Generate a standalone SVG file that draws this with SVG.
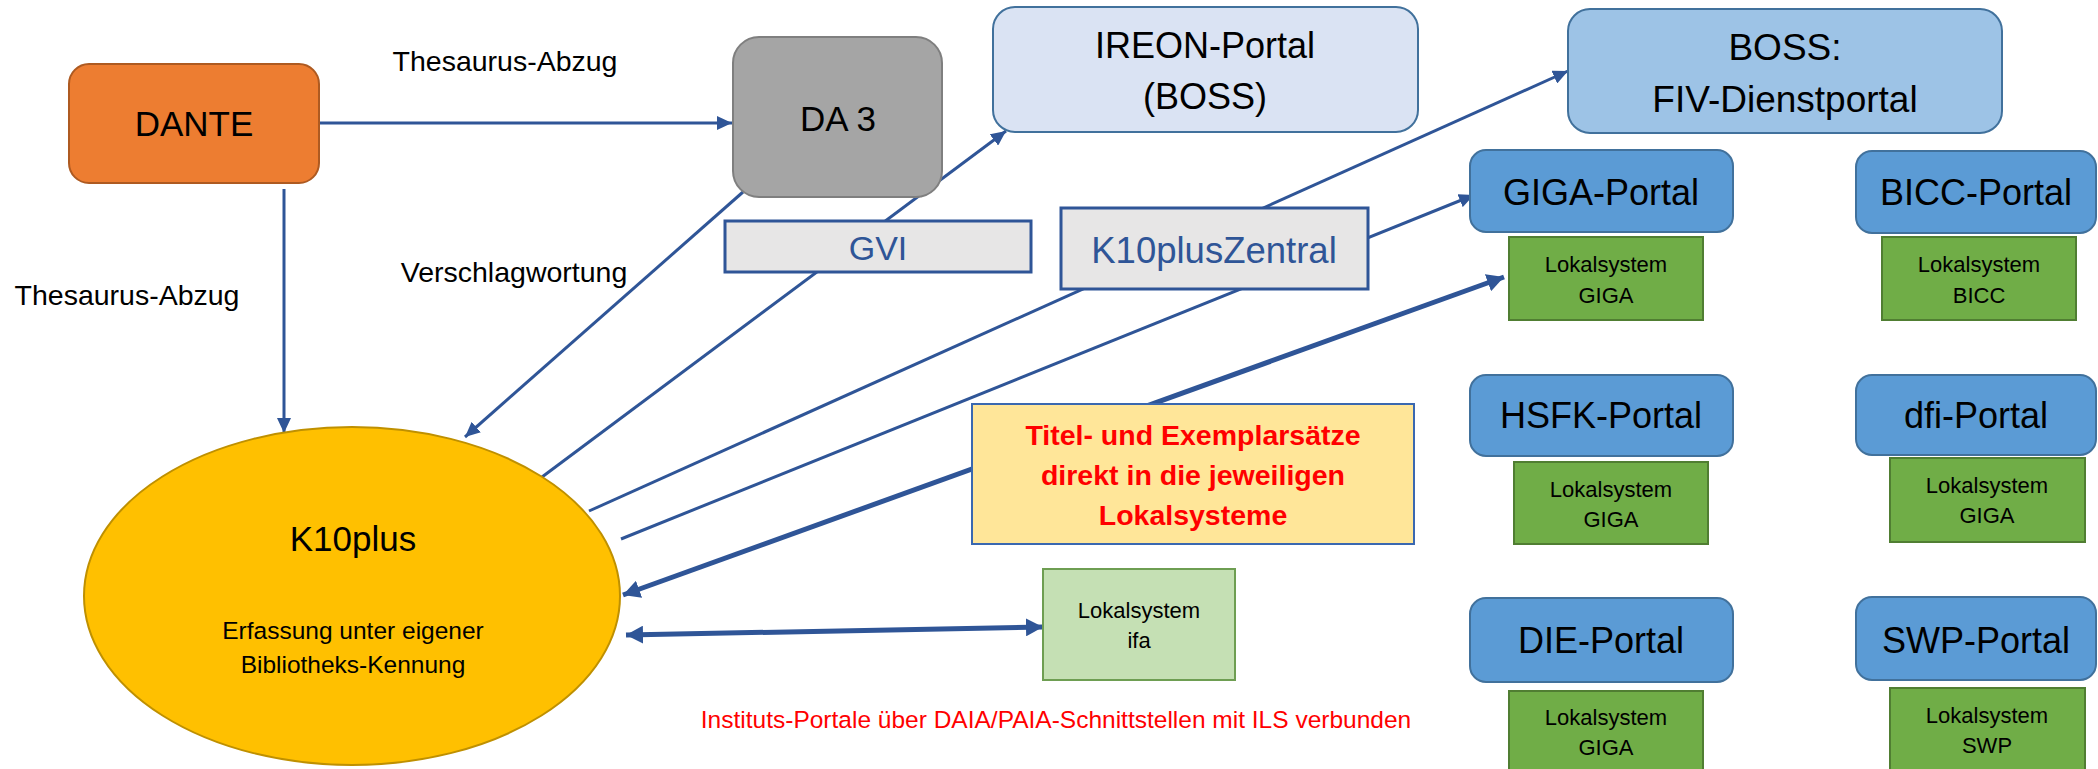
<svg xmlns="http://www.w3.org/2000/svg" width="2098" height="769" viewBox="0 0 2098 769">
<style>
text{font-family:"Liberation Sans",Arial,sans-serif;fill:#000;text-anchor:middle}
.c{fill:none;stroke:#2F5597;stroke-width:3}
.ct{fill:none;stroke:#2F5597;stroke-width:5}
.portal{fill:#5B9BD5;stroke:#41719C;stroke-width:2}
.lok{fill:#70AD47;stroke:#507E32;stroke-width:2}
.pt{font-size:36px}
.lt{font-size:22px}
.lbl{font-size:28.5px}
.gray{fill:#E7E6E6;stroke:#2F5597;stroke-width:3}
.bt{fill:#2F5597}
.red{fill:#FF0000}
</style>
<defs>
<marker id="a" markerUnits="userSpaceOnUse" markerWidth="16" markerHeight="14" refX="15" refY="7" orient="auto"><path d="M0,0 L15,7 L0,14 z" fill="#2F5597"/></marker>
<marker id="at" markerUnits="userSpaceOnUse" markerWidth="18" markerHeight="18" refX="17" refY="9" orient="auto-start-reverse"><path d="M0,0 L17,9 L0,18 z" fill="#2F5597"/></marker>
</defs>
<rect width="2098" height="769" fill="#fff"/>
<g id="connectors">
<line class="c" x1="319" y1="123" x2="732" y2="123" marker-end="url(#a)"/>
<line class="c" x1="284" y1="189" x2="284" y2="433" marker-end="url(#a)"/>
<line class="c" x1="743" y1="192" x2="465" y2="437" marker-end="url(#a)"/>
<line class="c" x1="542" y1="477" x2="1006" y2="131" marker-end="url(#a)"/>
<line class="c" x1="589" y1="511" x2="1568" y2="71" marker-end="url(#a)"/>
<line class="c" x1="621" y1="539" x2="1474" y2="195" marker-end="url(#a)"/>
<line class="ct" x1="623" y1="595" x2="1504" y2="277" marker-start="url(#at)" marker-end="url(#at)"/>
<line class="ct" x1="626" y1="635" x2="1043" y2="627" marker-start="url(#at)" marker-end="url(#at)"/>
</g>
<g id="dante"><rect x="69" y="64" width="250" height="119" rx="20" fill="#ED7D31" stroke="#AE5A21" stroke-width="2"/><text x="194" y="136" font-size="35">DANTE</text></g>
<g id="da3"><rect x="733" y="37" width="209" height="160" rx="26" fill="#A5A5A5" stroke="#7F7F7F" stroke-width="2"/><text x="838" y="131" font-size="35">DA 3</text></g>
<g id="ireon"><rect x="993" y="7" width="425" height="125" rx="22" fill="#DAE3F3" stroke="#41719C" stroke-width="2"/><text x="1205" y="58" font-size="36">IREON-Portal</text><text x="1205" y="109" font-size="36">(BOSS)</text></g>
<g id="boss"><rect x="1568" y="9" width="434" height="124" rx="22" fill="#9DC3E6" stroke="#41719C" stroke-width="2"/><text x="1785" y="60" font-size="37">BOSS:</text><text x="1785" y="112" font-size="37">FIV-Dienstportal</text></g>
<g id="gvi"><rect class="gray" x="725" y="221" width="306" height="51"/><text class="bt" x="878" y="260" font-size="34">GVI</text></g>
<g id="k10pluszentral"><rect class="gray" x="1061" y="208" width="307" height="81"/><text class="bt" x="1214" y="263" font-size="36.5">K10plusZentral</text></g>
<g id="giga-portal"><rect class="portal" x="1470" y="150" width="263" height="82" rx="16"/><text class="pt" x="1601" y="205">GIGA-Portal</text></g>
<g id="bicc-portal"><rect class="portal" x="1856" y="151" width="240" height="82" rx="16"/><text class="pt" x="1976" y="205">BICC-Portal</text></g>
<g id="lok-giga1"><rect class="lok" x="1509" y="237" width="194" height="83"/><text class="lt" x="1606" y="272">Lokalsystem</text><text class="lt" x="1606" y="303">GIGA</text></g>
<g id="lok-bicc"><rect class="lok" x="1882" y="237" width="194" height="83"/><text class="lt" x="1979" y="272">Lokalsystem</text><text class="lt" x="1979" y="303">BICC</text></g>
<g id="hsfk-portal"><rect class="portal" x="1470" y="375" width="263" height="81" rx="16"/><text class="pt" x="1601" y="428">HSFK-Portal</text></g>
<g id="dfi-portal"><rect class="portal" x="1856" y="375" width="240" height="80" rx="16"/><text class="pt" x="1976" y="428">dfi-Portal</text></g>
<g id="lok-giga2"><rect class="lok" x="1514" y="462" width="194" height="82"/><text class="lt" x="1611" y="497">Lokalsystem</text><text class="lt" x="1611" y="527">GIGA</text></g>
<g id="lok-giga3"><rect class="lok" x="1890" y="458" width="195" height="84"/><text class="lt" x="1987" y="493">Lokalsystem</text><text class="lt" x="1987" y="523">GIGA</text></g>
<g id="die-portal"><rect class="portal" x="1470" y="598" width="263" height="84" rx="16"/><text class="pt" x="1601" y="653">DIE-Portal</text></g>
<g id="swp-portal"><rect class="portal" x="1856" y="597" width="240" height="83" rx="16"/><text class="pt" x="1976" y="653">SWP-Portal</text></g>
<g id="lok-giga4"><rect class="lok" x="1509" y="691" width="194" height="80"/><text class="lt" x="1606" y="725">Lokalsystem</text><text class="lt" x="1606" y="755">GIGA</text></g>
<g id="lok-swp"><rect class="lok" x="1890" y="688" width="195" height="83"/><text class="lt" x="1987" y="723">Lokalsystem</text><text class="lt" x="1987" y="753">SWP</text></g>
<g id="lok-ifa"><rect x="1043" y="569" width="192" height="111" fill="#C5E0B4" stroke="#6E9E52" stroke-width="2"/><text class="lt" x="1139" y="618">Lokalsystem</text><text class="lt" x="1139" y="648">ifa</text></g>
<g id="titel"><rect x="972" y="404" width="442" height="140" fill="#FFE699" stroke="#3A68B0" stroke-width="2"/><text class="red" x="1193" y="445" font-size="28.5" font-weight="bold">Titel- und Exemplarsätze</text><text class="red" x="1193" y="485" font-size="28.5" font-weight="bold">direkt in die jeweiligen</text><text class="red" x="1193" y="525" font-size="28.5" font-weight="bold">Lokalsysteme</text></g>
<g id="k10plus"><ellipse cx="352" cy="596" rx="268" ry="169" fill="#FFC000" stroke="#BF9000" stroke-width="2"/><text x="353" y="551" font-size="35">K10plus</text><text x="353" y="639" font-size="24.5">Erfassung unter eigener</text><text x="353" y="673" font-size="24.5">Bibliotheks-Kennung</text></g>
<g id="labels">
<text class="lbl" x="505" y="71">Thesaurus-Abzug</text>
<text class="lbl" x="514" y="282">Verschlagwortung</text>
<text class="lbl" x="127" y="305">Thesaurus-Abzug</text>
<text class="red" x="1056" y="728" font-size="24.5">Instituts-Portale über DAIA/PAIA-Schnittstellen mit ILS verbunden</text>
</g>
</svg>
